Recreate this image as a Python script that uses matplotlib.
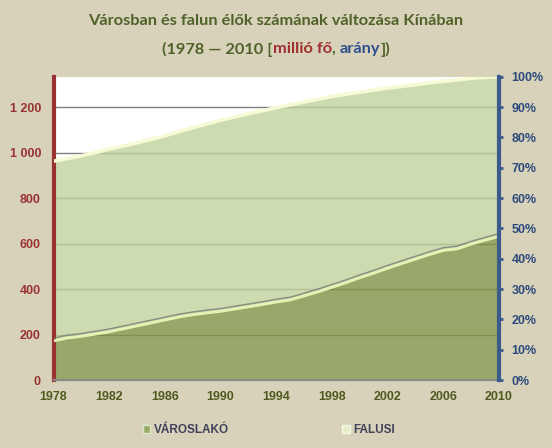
import matplotlib
matplotlib.use("Agg")
import matplotlib.pyplot as plt
import matplotlib.patheffects as pe
from matplotlib.patches import Patch
from matplotlib.ticker import FuncFormatter, PercentFormatter

years = list(range(1978, 2011))
urban = [172, 185, 192, 202, 212, 225, 238, 251, 264, 277, 287, 295, 302,
         312, 322, 332, 343, 352, 370, 388, 408, 428, 450, 470, 492, 512,
         532, 552, 570, 577, 598, 615, 632]
total = [963, 975, 987, 1001, 1017, 1030, 1044, 1059, 1075, 1093, 1110, 1127,
         1143, 1158, 1172, 1185, 1199, 1211, 1224, 1236, 1248, 1258, 1267,
         1276, 1285, 1292, 1300, 1308, 1315, 1321, 1328, 1332, 1335]
rural = [t - u for t, u in zip(total, urban)]
left_ticks = [0, 200, 400, 600, 800, 1000, 1200]
x_ticks = list(range(1978, 2011, 4))
series_names = ["VÁROSLAKÓ", "FALUSI"]

BG = "#d8d2bb"
DARK = "#7e9345"
LIGHT = "#c0d29c"
RED = "#993333"
BLUE = "#2d4a7c"
OLIVE = "#4f6228"

fig = plt.figure(figsize=(5.52, 4.48), dpi=100, facecolor=BG)
ax = fig.add_axes([53.5 / 552, 1 - 380 / 448, (499 - 53.5) / 552, (380 - 76.7) / 448])
ax.set_facecolor("white")

top = [u + r for u, r in zip(urban, rural)]
ax.fill_between(years, 0, urban, color=DARK, alpha=0.8, lw=0, zorder=1)
ax.fill_between(years, urban, top, color=LIGHT, alpha=0.8, lw=0, zorder=1)

# bevel-like edge highlights
ax.plot(years, urban, color="#e6f2b4", lw=2.0, zorder=3,
        path_effects=[pe.SimpleLineShadow(offset=(0, 2.0), shadow_color="#707070",
                                           alpha=0.7, linewidth=1.1),
                      pe.Normal()])
ax.plot(years, top, color="#f6fbd6", lw=2.6, zorder=3)

ax.set_xlim(1978, 2010)
ax.set_ylim(0, 1335)
ax.set_yticks(left_ticks)
ax.yaxis.set_major_formatter(FuncFormatter(lambda v, p: f"{int(v):,}".replace(",", " ")))
ax.set_xticks(x_ticks)
ax.set_axisbelow(True)
ax.yaxis.grid(True, color="#808080", lw=1.0)
ax.tick_params(axis="y", length=0, pad=9, labelcolor=RED, labelsize=9)
ax.tick_params(axis="x", length=0, pad=8, labelcolor="#4f5a1e", labelsize=9)
for lab in ax.get_yticklabels() + ax.get_xticklabels():
    lab.set_fontweight("bold")
    lab.set_family("Liberation Sans")

ax.spines["top"].set_visible(False)
ax.spines["right"].set_visible(False)
ax.spines["left"].set_color(RED)
ax.spines["left"].set_linewidth(3)
ax.spines["bottom"].set_color("#888888")
ax.spines["bottom"].set_linewidth(1.6)

ax2 = ax.twinx()
ax2.set_ylim(0, 1)
ax2.set_yticks([i / 10 for i in range(11)])
ax2.yaxis.set_major_formatter(PercentFormatter(1.0, decimals=0))
ax2.tick_params(axis="y", direction="out", length=3, width=2, color="#3b5b8c",
                pad=6, labelcolor=BLUE, labelsize=9)
for lab in ax2.get_yticklabels():
    lab.set_fontweight("bold")
    lab.set_family("Liberation Sans")
for s in ["top", "left", "bottom"]:
    ax2.spines[s].set_visible(False)
ax2.spines["right"].set_color("#3b5b8c")
ax2.spines["right"].set_linewidth(3)

# legend
handles = [Patch(facecolor="#98a96a", edgecolor="#dfe8c8", lw=1),
           Patch(facecolor="#e6efcc", edgecolor="#f4f8e4", lw=1)]
leg = fig.legend(handles, series_names, loc="center", bbox_to_anchor=(0.487, 1 - 430 / 448),
                 ncol=2, frameon=False, handlelength=0.6, handleheight=0.6,
                 handletextpad=0.3, columnspacing=9.65,
                 prop={"family": "Liberation Sans", "weight": "bold", "size": 8.5})
for t in leg.get_texts():
    t.set_color("#40405a")

# title
TF = "Lato"
FS = 11.8
fig.text(0.5, 1 - 21 / 448, "Városban és falun élők számának változása Kínában",
         ha="center", va="center", fontsize=FS, fontweight="bold", color=OLIVE, family=TF)

pieces = [("(1978 \u2014 2010 [", OLIVE), ("millió fő", "#a03030"), (", ", OLIVE),
          ("arány", "#2f4f8f"), ("])", OLIVE)]
fig.canvas.draw()
renderer = fig.canvas.get_renderer()
texts = []
for s, c in pieces:
    t = fig.text(0, 1 - 49 / 448, s, ha="left", va="center", fontsize=FS,
                 fontweight="bold", color=c, family=TF)
    texts.append(t)
widths = [t.get_window_extent(renderer).width for t in texts]
totw = sum(widths)
figw = fig.get_figwidth() * fig.dpi
xpos = (figw - totw) / 2
for t, w in zip(texts, widths):
    t.set_x(xpos / figw)
    xpos += w

fig.savefig("out.png", dpi=100, facecolor=BG)
